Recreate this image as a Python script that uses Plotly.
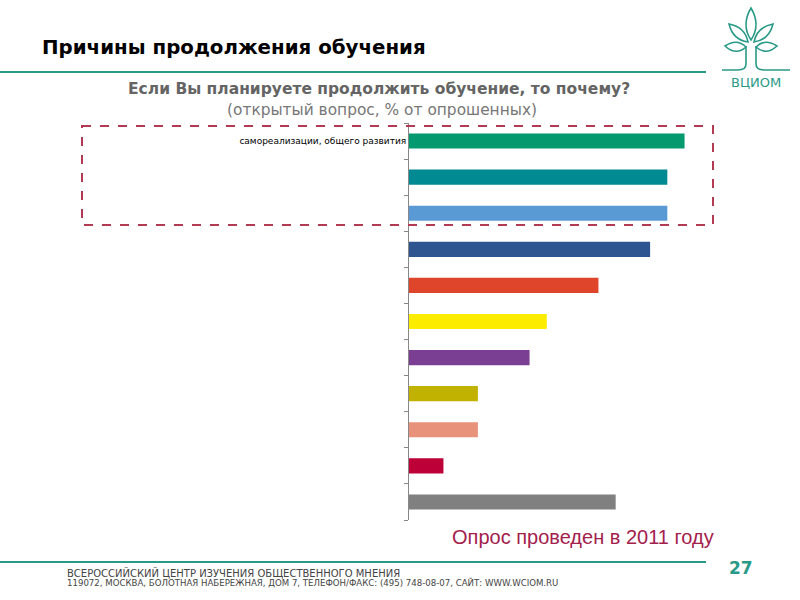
import plotly.graph_objects as go

# ---- data ----
cat_ids = ["c1", "c2", "c3", "c4", "c5", "c6", "c7", "c8", "c9", "c10", "c11"]
tick_labels = ["самореализации, общего развития", "", "", "", "", "", "", "", "", "", ""]
values = [16, 15, 15, 14, 11, 8, 7, 4, 4, 2, 12]
bar_colors = ["#05996f", "#028a92", "#5a9ad4", "#2f5591", "#df452b", "#fcec00",
              "#7a3f93", "#c1b100", "#e8917b", "#be0038", "#808080"]

W, H = 800, 600
PL, PR, PT, PB = 409, 719, 123, 520


def px(x):
    return (x - PL) / (PR - PL)


def py(y):
    return (PB - y) / (PB - PT)


TEAL = "#2a9a88"

fig = go.Figure(go.Bar(
    y=cat_ids, x=values, orientation="h",
    marker=dict(color=bar_colors, line=dict(width=0)),
    width=0.42, hoverinfo="x",
))

shapes = []
# dashed highlight box
shapes.append(dict(type="rect", xref="paper", yref="paper",
                   x0=px(82), x1=px(713), y0=py(126), y1=py(225),
                   line=dict(color="#b23a52", width=2, dash="dash")))
# teal rules
shapes.append(dict(type="line", xref="paper", yref="paper",
                   x0=px(0), x1=px(706), y0=py(72), y1=py(72),
                   line=dict(color=TEAL, width=2)))
shapes.append(dict(type="line", xref="paper", yref="paper",
                   x0=px(0), x1=px(706), y0=py(562), y1=py(562),
                   line=dict(color=TEAL, width=2)))


def path(points_cmds):
    out = []
    for c in points_cmds:
        if isinstance(c, str):
            out.append(c)
        else:
            out.append(f"{px(c[0]):.5f},{py(c[1]):.5f}")
    return " ".join(out)


logo_line = dict(color=TEAL, width=1.6)
# trunk
shapes.append(dict(type="path", xref="paper", yref="paper", line=logo_line,
                   path=path(["M", (746, 46), "L", (746, 64), "Q", (746, 70), (738, 70), "L", (722, 70)])))
shapes.append(dict(type="path", xref="paper", yref="paper", line=logo_line,
                   path=path(["M", (756, 46), "L", (756, 64), "Q", (756, 70), (764, 70), "L", (790, 70)])))
# leaves
leaves = [
    ["M", (751, 40), "Q", (741, 25), (751, 8), "Q", (761, 25), (751, 40), "Z"],
    ["M", (748, 42), "Q", (733, 40), (729, 24), "Q", (745, 27), (748, 42), "Z"],
    ["M", (754, 42), "Q", (769, 40), (773, 24), "Q", (757, 27), (754, 42), "Z"],
    ["M", (746, 47), "Q", (737, 38), (725, 46), "Q", (736, 56), (746, 47), "Z"],
    ["M", (756, 47), "Q", (765, 38), (777, 46), "Q", (766, 56), (756, 47), "Z"],
]
for lf in leaves:
    shapes.append(dict(type="path", xref="paper", yref="paper", line=logo_line,
                       path=path(lf)))


def ann(text, x, y, anchor, family, size, color):
    return dict(text=text, x=px(x), y=py(y), xref="paper", yref="paper",
                xanchor=anchor, yanchor="middle", showarrow=False,
                font=dict(family=family, size=size, color=color))


annotations = [
    ann("<b>Причины продолжения обучения</b>", 40, 47, "left", "DejaVu Sans", 19.8, "#000000"),
    ann("<b>Если Вы планируете продолжить обучение, то почему?</b>", 379, 89, "center",
        "DejaVu Sans", 15.5, "#646464"),
    ann("(открытый вопрос, % от опрошенных)", 382, 110, "center", "DejaVu Sans", 15.4, "#777777"),
    ann("Опрос проведен в 2011 году", 716, 537, "right", "Liberation Sans", 20, "#a3204c"),
    ann("<b>27</b>", 741, 568, "center", "DejaVu Sans", 17, TEAL),
    ann("ВСЕРОССИЙСКИЙ ЦЕНТР ИЗУЧЕНИЯ ОБЩЕСТВЕННОГО МНЕНИЯ", 65, 573, "left",
        "DejaVu Sans", 10, "#444444"),
    ann("119072, МОСКВА, БОЛОТНАЯ НАБЕРЕЖНАЯ, ДОМ 7, ТЕЛЕФОН/ФАКС: (495) 748-08-07, САЙТ: WWW.WCIOM.RU",
        65, 582, "left", "DejaVu Sans", 8.6, "#444444"),
    ann("ВЦИОМ", 756, 82, "center", "DejaVu Sans", 13, TEAL),
]

fig.update_layout(
    width=W, height=H,
    margin=dict(l=PL, r=W - PR, t=PT, b=H - PB, pad=0),
    paper_bgcolor="white", plot_bgcolor="white",
    showlegend=False,
    shapes=shapes,
    annotations=annotations,
    xaxis=dict(range=[0, 18], showgrid=False, zeroline=False, showticklabels=False,
               showline=False, ticks=""),
    yaxis=dict(categoryorder="array", categoryarray=cat_ids, autorange="reversed",
               tickvals=cat_ids, ticktext=tick_labels, tickson="boundaries",
               ticks="outside", ticklen=4, tickcolor="#888888",
               showline=True, linecolor="#888888", linewidth=1,
               showgrid=False, zeroline=False,
               tickfont=dict(family="DejaVu Sans", size=9, color="#000000")),
)

fig.write_html("out.html", config={"displayModeBar": False},
               post_script="document.body.style.margin='0';")
